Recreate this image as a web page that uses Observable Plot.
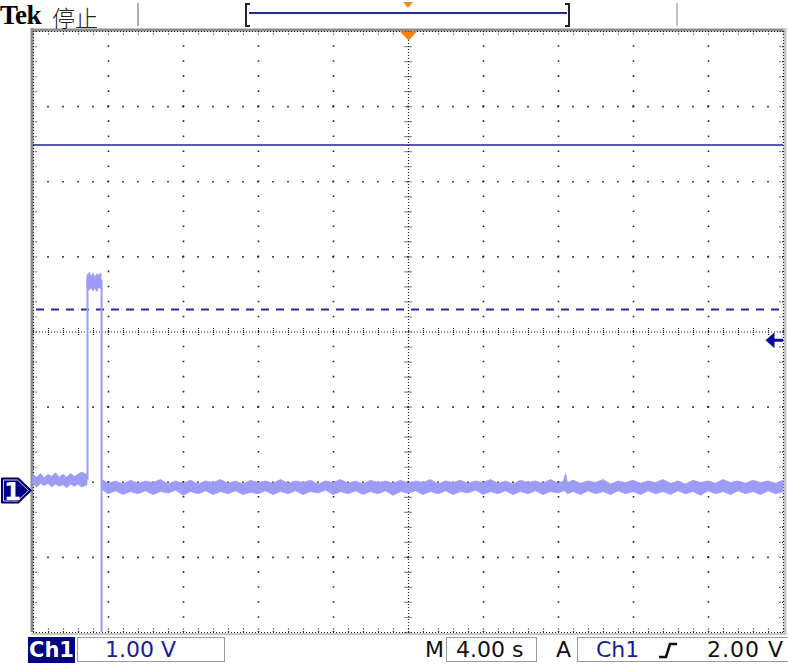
<!DOCTYPE html>
<html><head><meta charset="utf-8">
<script src="https://cdn.jsdelivr.net/npm/d3@7"></script>
<script src="https://cdn.jsdelivr.net/npm/@observablehq/plot@0.6"></script>
<style>
body{margin:0;background:#fff;}
#wrap{position:relative;width:788px;height:665px;overflow:hidden;font-family:"DejaVu Sans",sans-serif;}
#chart{position:absolute;left:0;top:0;}
.abs{position:absolute;white-space:nowrap;}
.box{position:absolute;top:637px;height:25px;border:1px solid #9a9a9a;box-sizing:border-box;}
.ft{position:absolute;top:637px;font-size:22px;line-height:26px;white-space:nowrap;}
</style></head><body>
<div id="wrap">
  <div id="chart"></div>
  <!-- header -->
  <div class="abs" style="left:0;top:0;font:bold 27px 'Liberation Serif',serif;letter-spacing:-0.5px;color:#000;line-height:30px;">Tek</div>
  <div class="abs" style="left:52px;top:0;font-family:'Noto Sans CJK SC',sans-serif;font-weight:300;font-size:23px;line-height:34px;color:#222;">停止</div>
  <div class="abs" style="left:137px;top:3px;width:2px;height:23px;background:#b0b0b0;"></div>
  <div class="abs" style="left:245px;top:3px;width:3px;height:20px;border-left:2px solid #222;border-top:2px solid #222;border-bottom:2px solid #222;"></div>
  <div class="abs" style="left:249px;top:12px;width:318px;height:2px;background:#2a2a9a;"></div>
  <div class="abs" style="left:565px;top:3px;width:3px;height:20px;border-right:2px solid #222;border-top:2px solid #222;border-bottom:2px solid #222;"></div>
  <div class="abs" style="left:403px;top:2px;width:0;height:0;border-left:5px solid transparent;border-right:5px solid transparent;border-top:6px solid #ff8a1c;"></div>
  <div class="abs" style="left:676px;top:3px;width:2px;height:23px;background:#c4c4c4;"></div>
  <!-- footer -->
  <div class="abs" style="left:28px;top:637px;width:47px;height:26px;background:#000080;"></div>
  <div class="ft" id="chLab" style="left:29px;color:#fff;font-weight:bold;font-size:21px;"></div>
  <div class="box" style="left:77px;width:148px;"></div>
  <div class="ft" id="vdivLab" style="left:105px;color:#1a1a9c;"></div>
  <div class="ft" style="left:425px;color:#111;">M</div>
  <div class="box" style="left:446px;width:91px;"></div>
  <div class="ft" id="tdivLab" style="left:456px;color:#111;"></div>
  <div class="ft" style="left:556px;color:#111;">A</div>
  <div class="box" style="left:577px;width:215px;"></div>
  <div class="ft" id="trigSrcLab" style="left:596px;color:#1a1a9c;"></div>
  <svg class="abs" style="left:658px;top:641px;" width="22" height="20"><path d="M1 16 H8 L12 3 H19" fill="none" stroke="#111" stroke-width="2.6"/></svg>
  <div class="ft" id="trigLvlLab" style="left:707px;color:#111;letter-spacing:1px;"></div>
</div>
<script>
// ---- settings / labels ----
const channelLabel = "Ch1";
const voltsPerDivLabel = "1.00 V";
const timePerDivLabel = "4.00 s";
const triggerLevelLabel = "2.00 V";

// ---- scale facts (volts, seconds) ----
const timeDomain = [-20, 20];          // 10 div x 4 s
const centerVolt = 2.11;                // screen centre in volts (ground 2.11 div below centre)
const voltDomain = [centerVolt - 4, centerVolt + 4];
const majorTimes = [-16, -12, -8, -4, 4, 8, 12, 16];
const majorVoltOffsets = [-3, -2, -1, 1, 2, 3];

// ---- cursors / trigger ----
const cursorSolid = [4.60];
const cursorDashed = [2.41];
const triggerLevel = [2.00];
const triggerTime = [0];
const groundLevel = [0];

const preBand = [
  [-20.0, 0.08, 0.20], [-19.8, 0.04, 0.17], [-19.6, 0.09, 0.22], [-19.4, 0.06, 0.16],
  [-19.2, 0.09, 0.21], [-19.0, 0.04, 0.18], [-18.8, 0.08, 0.23], [-18.6, 0.05, 0.17],
  [-18.4, 0.07, 0.21], [-18.2, 0.03, 0.17], [-18.0, 0.08, 0.22], [-17.8, 0.05, 0.18],
  [-17.6, 0.08, 0.21], [-17.4, 0.04, 0.24], [-17.12, 0.07, 0.20]
];
const pulseBand = [
  [-17.12, 2.70, 2.86], [-17.0, 2.66, 2.90], [-16.9, 2.70, 2.84], [-16.8, 2.65, 2.89],
  [-16.7, 2.69, 2.83], [-16.6, 2.64, 2.88], [-16.5, 2.70, 2.86], [-16.37, 2.68, 2.89]
];
const postBand = [
  [-16.27, 0.00, 0.13], [-16.0, -0.05, 0.09], [-15.6, -0.01, 0.12], [-15.2, -0.06, 0.08],
  [-14.8, -0.02, 0.13], [-14.4, -0.05, 0.09], [-14.0, -0.01, 0.12], [-13.6, -0.06, 0.10],
  [-13.2, -0.02, 0.14], [-12.8, -0.04, 0.08], [-12.4, 0.00, 0.12], [-12.0, -0.07, 0.09],
  [-11.6, -0.02, 0.13], [-11.2, -0.05, 0.08], [-10.8, -0.01, 0.12], [-10.4, -0.06, 0.10],
  [-10.0, -0.02, 0.14], [-9.6, -0.05, 0.09], [-9.2, -0.01, 0.12], [-8.8, -0.06, 0.08],
  [-8.4, -0.03, 0.13], [-8.0, -0.05, 0.10], [-7.6, -0.01, 0.12], [-7.2, -0.06, 0.09],
  [-6.8, -0.02, 0.14], [-6.4, -0.05, 0.09], [-6.0, -0.01, 0.12], [-5.6, -0.06, 0.10],
  [-5.2, -0.02, 0.13], [-4.8, -0.04, 0.08], [-4.4, 0.00, 0.12], [-4.0, -0.06, 0.10],
  [-3.6, -0.02, 0.14], [-3.2, -0.05, 0.09], [-2.8, -0.01, 0.12], [-2.4, -0.06, 0.08],
  [-2.0, -0.02, 0.13], [-1.6, -0.05, 0.10], [-1.2, -0.01, 0.12], [-0.8, -0.07, 0.09],
  [-0.4, -0.02, 0.13], [0.0, -0.04, 0.09], [0.4, -0.01, 0.12], [0.8, -0.06, 0.10],
  [1.2, -0.02, 0.14], [1.6, -0.05, 0.08], [2.0, -0.01, 0.12], [2.4, -0.06, 0.10],
  [2.8, -0.02, 0.13], [3.2, -0.04, 0.09], [3.6, 0.00, 0.12], [4.0, -0.06, 0.10],
  [4.4, -0.02, 0.14], [4.8, -0.05, 0.09], [5.2, -0.01, 0.12], [5.6, -0.06, 0.08],
  [6.0, -0.02, 0.13], [6.4, -0.05, 0.10], [6.8, -0.01, 0.12], [7.2, -0.06, 0.09],
  [7.6, -0.02, 0.14], [8.0, -0.04, 0.09], [8.3, -0.01, 0.12], [8.4, -0.02, 0.22],
  [8.5, -0.05, 0.10], [8.8, -0.02, 0.13], [9.2, -0.06, 0.09], [9.6, -0.01, 0.12],
  [10.0, -0.05, 0.10], [10.4, -0.02, 0.14], [10.8, -0.06, 0.08], [11.2, -0.01, 0.12],
  [11.6, -0.05, 0.10], [12.0, -0.02, 0.13], [12.4, -0.06, 0.09], [12.8, -0.01, 0.12],
  [13.2, -0.05, 0.10], [13.6, -0.02, 0.14], [14.0, -0.06, 0.09], [14.4, -0.01, 0.12],
  [14.8, -0.05, 0.08], [15.2, -0.02, 0.13], [15.6, -0.07, 0.10], [16.0, -0.01, 0.12],
  [16.4, -0.05, 0.09], [16.8, -0.02, 0.14], [17.2, -0.06, 0.10], [17.6, -0.01, 0.12],
  [18.0, -0.05, 0.09], [18.4, -0.02, 0.13], [18.8, -0.06, 0.10], [19.2, -0.01, 0.12],
  [19.6, -0.05, 0.09], [20.0, -0.02, 0.13]
];
const edges = [
  {t: -17.12, from: 0.14, to: 2.80},
  {t: -16.37, from: 2.80, to: -3.0}
];

// ---- layout ----
const W = 788, H = 665, mL = 33, mR = 5, mT = 31, mB = 33;
const pxPerV = (H - mT - mB) / 8;
const pxPerS = (W - mL - mR) / 40;
const minorT = d3.range(0, 51).map(k => timeDomain[0] + k * 0.8);
const minorV = d3.range(0, 41).map(k => voltDomain[0] + k * 0.2);
const majorV = majorVoltOffsets.map(k => centerVolt + k);

const traceColor = "#9c9cf6";
const dotColor = "#222";

const orangeMarker = {draw(c) { c.moveTo(-8.5, 0); c.lineTo(8.5, 0); c.lineTo(0, 9); c.closePath(); }};
const leftArrow = {draw(c) { c.moveTo(-9, 0); c.lineTo(0, -8); c.lineTo(0, 8); c.closePath(); }};
const groundOuter = {draw(c) { c.moveTo(-32, -12.5); c.lineTo(-15, -12.5); c.lineTo(-2, 0); c.lineTo(-15, 12.5); c.lineTo(-32, 12.5); c.closePath(); }};
const groundInner = {draw(c) { c.moveTo(-30, -10.5); c.lineTo(-16, -10.5); c.lineTo(-5, 0); c.lineTo(-16, 10.5); c.lineTo(-30, 10.5); c.closePath(); }};

const chart = Plot.plot({
  width: W, height: H,
  marginLeft: mL, marginRight: mR, marginTop: mT, marginBottom: mB,
  style: {background: "white", overflow: "visible"},
  x: {domain: timeDomain, axis: null},
  y: {domain: voltDomain, axis: null},
  marks: [
    // screen border bands
    Plot.ruleY([voltDomain[1]], {stroke: "#8e8e8e", strokeWidth: 3, dy: -1.5, insetLeft: -2, insetRight: -3}),
    Plot.ruleX([timeDomain[0]], {stroke: "#8e8e8e", strokeWidth: 3, dx: -1.5, insetTop: -3}),
    Plot.ruleX([timeDomain[1]], {stroke: "#c8c8c8", strokeWidth: 3, dx: 1.5, insetTop: -3, insetBottom: -3}),
    Plot.ruleY([voltDomain[0]], {stroke: "#c8c8c8", strokeWidth: 2, dy: 1.5, insetLeft: -2, insetRight: -3}),
    Plot.ruleY([voltDomain[1], voltDomain[0]], {stroke: dotColor, strokeWidth: 1.2, strokeDasharray: "1,2"}),
    Plot.ruleX([timeDomain[0], timeDomain[1]], {stroke: dotColor, strokeWidth: 1.2, strokeDasharray: "1,2"}),
    // border ticks
    Plot.ruleX(minorT, {x: d => d, y1: voltDomain[1], y2: voltDomain[1] - 4 / pxPerV, stroke: dotColor, strokeWidth: 1.2, strokeDasharray: "1,1.5"}),
    Plot.ruleX(minorT, {x: d => d, y1: voltDomain[0], y2: voltDomain[0] + 4 / pxPerV, stroke: dotColor, strokeWidth: 1.2, strokeDasharray: "1,1.5"}),
    Plot.ruleY(minorV, {y: d => d, x1: timeDomain[0], x2: timeDomain[0] + 4 / pxPerS, stroke: dotColor, strokeWidth: 1.2, strokeDasharray: "1,1.5"}),
    Plot.ruleY(minorV, {y: d => d, x1: timeDomain[1], x2: timeDomain[1] - 4 / pxPerS, stroke: dotColor, strokeWidth: 1.2, strokeDasharray: "1,1.5"}),
    // dotted graticule
    Plot.ruleX(majorTimes, {stroke: dotColor, strokeWidth: 1.6, strokeDasharray: `1.6,${(pxPerV / 5 - 1.6).toFixed(3)}`, strokeDashoffset: 0.8}),
    Plot.ruleY(majorV, {stroke: dotColor, strokeWidth: 1.6, strokeDasharray: `1.6,${(pxPerS * 0.8 - 1.6).toFixed(3)}`, strokeDashoffset: 0.8}),
    // centre cross
    Plot.ruleX([0], {stroke: dotColor, strokeWidth: 1.2, strokeDasharray: "1,2"}),
    Plot.ruleY([centerVolt], {stroke: dotColor, strokeWidth: 1.2, strokeDasharray: "1,2"}),
    Plot.ruleY(minorV, {y: d => d, x1: -3.5 / pxPerS, x2: 3.5 / pxPerS, stroke: dotColor, strokeWidth: 1.2, strokeDasharray: "1,1"}),
    Plot.ruleX(minorT, {x: d => d, y1: centerVolt - 3.5 / pxPerV, y2: centerVolt + 3.5 / pxPerV, stroke: dotColor, strokeWidth: 1.2, strokeDasharray: "1,1"}),
    // cursors
    Plot.ruleY(cursorSolid, {stroke: "#23238f", strokeWidth: 1.6}),
    Plot.ruleY(cursorDashed, {stroke: "#2a2aa0", strokeWidth: 2, strokeDasharray: "8,7", insetLeft: 3}),
    // trace
    Plot.areaY(preBand, {x: d => d[0], y1: d => d[1], y2: d => d[2], fill: traceColor, stroke: traceColor, strokeWidth: 0.8}),
    Plot.areaY(pulseBand, {x: d => d[0], y1: d => d[1], y2: d => d[2], fill: traceColor, stroke: traceColor, strokeWidth: 0.8}),
    Plot.areaY(postBand, {x: d => d[0], y1: d => d[1], y2: d => d[2], fill: traceColor, stroke: traceColor, strokeWidth: 0.8}),
    Plot.ruleX(edges, {x: "t", y1: "from", y2: "to", stroke: traceColor, strokeWidth: 2, clip: true}),
    // trigger level arrow (right)
    Plot.ruleY(triggerLevel, {x1: timeDomain[1] - 9 / pxPerS, x2: timeDomain[1], stroke: "#0a0a9a", strokeWidth: 3}),
    Plot.dot(triggerLevel, {x: timeDomain[1] - 9 / pxPerS, y: d => d, symbol: leftArrow, fill: "#0a0a9a", stroke: "none"}),
    // trigger position marker (top)
    Plot.dot(triggerTime, {x: d => d, y: voltDomain[1], symbol: orangeMarker, fill: "#ff7f0e", stroke: "none"}),
    // channel ground marker (left)
    Plot.dot(groundLevel, {x: timeDomain[0], y: d => d, symbol: groundOuter, fill: "#000080", stroke: "#000050", strokeWidth: 1}),
    Plot.dot(groundLevel, {x: timeDomain[0], y: d => d, symbol: groundInner, fill: "none", stroke: "#ffffff", strokeWidth: 0.8}),
    Plot.text(groundLevel, {x: timeDomain[0], y: d => d, text: () => "1", dx: -21, dy: 1, fill: "white", fontSize: 25, fontWeight: "bold", fontFamily: "DejaVu Sans"})
  ]
});
document.getElementById("chart").appendChild(chart);

document.getElementById("chLab").textContent = channelLabel;
document.getElementById("vdivLab").textContent = voltsPerDivLabel;
document.getElementById("tdivLab").textContent = timePerDivLabel;
document.getElementById("trigSrcLab").textContent = channelLabel;
document.getElementById("trigLvlLab").textContent = triggerLevelLabel;
</script>
</body></html>
